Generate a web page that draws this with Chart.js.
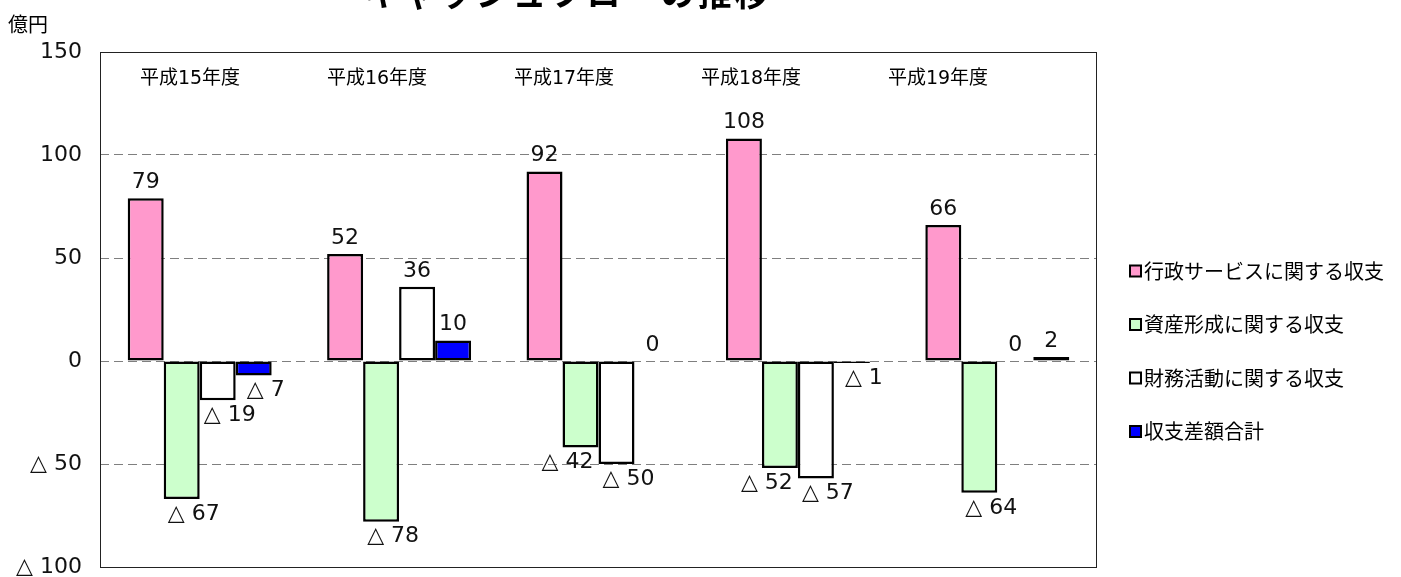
<!DOCTYPE html>
<html lang="ja">
<head>
<meta charset="utf-8">
<title>キャッシュフローの推移</title>
<script src="https://cdn.jsdelivr.net/npm/chart.js@4/dist/chart.umd.min.js"></script>
<style>
    html, body { margin: 0; padding: 0; background: #fff; }
    #wrap { width: 1401px; height: 577px; }
</style>
</head>
<body>
<div id="wrap"><canvas id="cfChart" width="1401" height="577"></canvas></div>
<script>
const YEARS = ['平成15年度', '平成16年度', '平成17年度', '平成18年度', '平成19年度'];

const SERIES_NAMES = [
    '行政サービスに関する収支',
    '資産形成に関する収支',
    '財務活動に関する収支',
    '収支差額合計'
];

// 億円
const GYOSEI = [79, 52, 92, 108, 66];
const SHISAN = [-67, -78, -42, -52, -64];
const ZAIMU = [-19, 36, -50, -57, 0];
const SAGAKU = [-7, 10, 0, -1, 2];

const Y_TICKS = [-100, -50, 0, 50, 100, 150];

const COLORS = ['#FF99CC', '#CCFFCC', '#FFFFFF', '#0000FF'];

const NUM_FONT = '"DejaVu Sans", "Noto Sans CJK JP", sans-serif';
const JP_FONT = '"Noto Sans CJK JP", sans-serif';

/** fmt: negative numbers are written with a triangle, e.g. △ 67 */
function fmt(v) {
    return v < 0 ? '△ ' + (-v) : String(v);
}

/** frame: plot border, drawn under the bars */
const framePlugin = {
    id: 'frame',
    beforeDatasetsDraw(chart) {
        const { ctx, chartArea: a } = chart;
        ctx.save();
        ctx.strokeStyle = '#222';
        ctx.lineWidth = 1;
        ctx.strokeRect(a.left + 0.5, a.top + 0.5, a.right - a.left - 1, a.bottom - a.top);
        ctx.restore();
    }
};

/** valueLabels: number above positive bars, below negative ones */
const valueLabelsPlugin = {
    id: 'valueLabels',
    afterDatasetsDraw(chart) {
        const ctx = chart.ctx;
        const yScale = chart.scales.y;
        ctx.save();
        ctx.font = '22px ' + NUM_FONT;
        ctx.fillStyle = '#111';
        ctx.textAlign = 'center';
        ctx.textBaseline = 'middle';
        chart.data.datasets.forEach((ds, di) => {
            const meta = chart.getDatasetMeta(di);
            meta.data.forEach((bar, i) => {
                const v = ds.data[i];
                if (v >= 0) {
                    ctx.fillText(fmt(v), bar.x, bar.y - 16);
                    return;
                }
                // shift left when the next bar's label would sit right next to this one
                let dx = 12;
                const next = chart.data.datasets[di + 1];
                if (next && next.data[i] < 0) {
                    const gap = yScale.getPixelForValue(next.data[i]) - bar.y;
                    if (gap >= 0 && gap < 24) dx = -13;
                }
                ctx.fillText(fmt(v), bar.x + dx, bar.y + 15);
            });
        });
        ctx.restore();
    }
};

/** annotations: title, unit, year captions and the legend */
const annotationsPlugin = {
    id: 'annotations',
    afterDraw(chart) {
        const { ctx, chartArea: a } = chart;
        ctx.save();

        // title, mostly above the top edge
        ctx.font = 'bold 34px ' + JP_FONT;
        ctx.letterSpacing = '3px';
        ctx.fillStyle = '#000';
        ctx.textAlign = 'center';
        ctx.textBaseline = 'alphabetic';
        ctx.fillText('キャッシュフローの推移', 568, 6);
        ctx.letterSpacing = '0px';

        // unit
        ctx.font = '20px ' + JP_FONT;
        ctx.textAlign = 'left';
        ctx.textBaseline = 'middle';
        ctx.fillText('億円', 8, 24);

        // year captions across the top of the plot
        ctx.font = '19px ' + NUM_FONT;
        ctx.textAlign = 'center';
        YEARS.forEach((y, i) => {
            ctx.fillText(y, a.left + 90 + i * 187, a.top + 27);
        });

        // legend
        ctx.font = '20px ' + JP_FONT;
        ctx.textAlign = 'left';
        chart.data.datasets.forEach((ds, i) => {
            const bx = a.right + 33;
            const by = 271 + i * 53.5;
            ctx.fillStyle = ds.backgroundColor;
            ctx.fillRect(bx, by - 5.5, 11, 11);
            ctx.strokeStyle = '#000';
            ctx.lineWidth = 2;
            ctx.strokeRect(bx, by - 5.5, 11, 11);
            ctx.fillStyle = '#000';
            ctx.fillText(ds.label, bx + 14, by);
        });

        ctx.restore();
    }
};

/** renderChart: builds the grouped bar chart */
function renderChart() {
    const values = [GYOSEI, SHISAN, ZAIMU, SAGAKU];
    const datasets = values.map((data, i) => ({
        label: SERIES_NAMES[i],
        data: data,
        backgroundColor: COLORS[i],
        borderColor: '#000',
        borderWidth: 2.5,
        borderSkipped: false,
        categoryPercentage: 0.722,
        barPercentage: 1.0
    }));

    new Chart(document.getElementById('cfChart'), {
        type: 'bar',
        data: {
            labels: YEARS,
            datasets: datasets
        },
        options: {
            responsive: false,
            animation: false,
            devicePixelRatio: 1,
            layout: {
                padding: { top: 52, right: 304, bottom: 10, left: 0 }
            },
            plugins: {
                legend: { display: false },
                tooltip: { enabled: false },
                title: { display: false }
            },
            scales: {
                x: {
                    display: false,
                    grid: { display: false }
                },
                y: {
                    min: Y_TICKS[0],
                    max: Y_TICKS[Y_TICKS.length - 1],
                    afterBuildTicks: (scale) => {
                        scale.ticks = Y_TICKS.map(v => ({ value: v }));
                    },
                    afterFit: (scale) => {
                        // fixed axis width; the tick padding must not push the plot edges in
                        scale.width = 100;
                        scale.paddingTop = 10;
                        scale.paddingBottom = 10;
                    },
                    // dashed horizontal grid lines
                    border: { display: false, dash: [9, 5] },
                    grid: {
                        color: '#7f7f7f',
                        lineWidth: 1,
                        drawTicks: false
                    },
                    ticks: {
                        padding: 18,
                        color: '#111',
                        font: { family: NUM_FONT, size: 22, lineHeight: 1.0 },
                        callback: (v) => fmt(v)
                    }
                }
            }
        },
        plugins: [framePlugin, valueLabelsPlugin, annotationsPlugin]
    });
}

renderChart();
</script>
</body>
</html>
